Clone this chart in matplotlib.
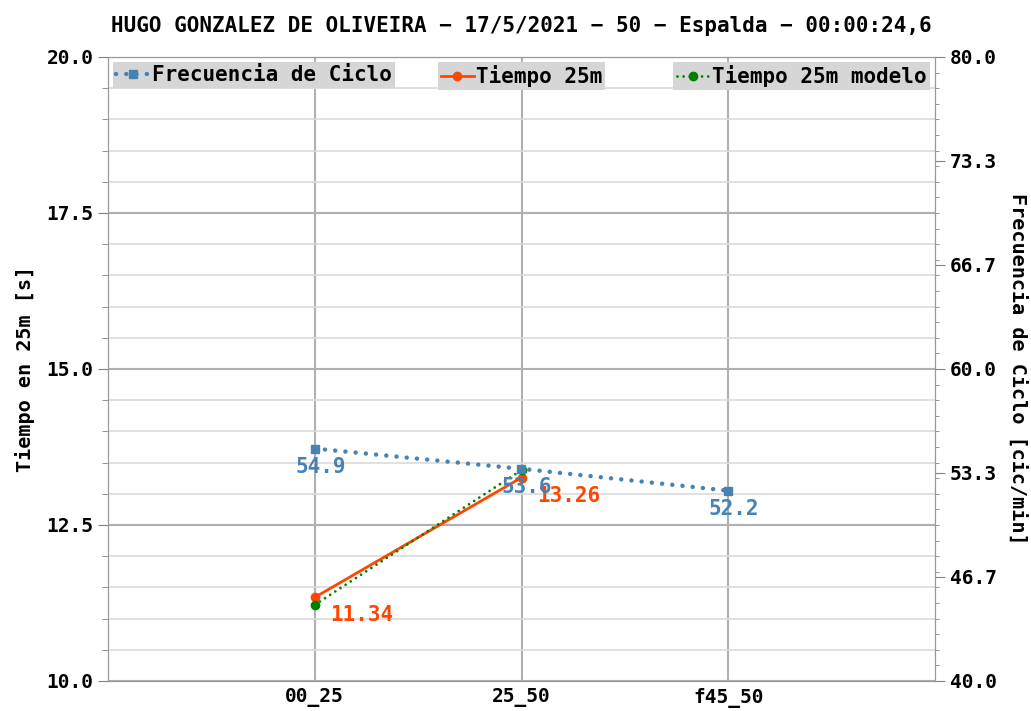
import matplotlib
matplotlib.use("Agg")
from matplotlib import pyplot as plt
from matplotlib.ticker import MultipleLocator, FormatStrFormatter

plt.rcParams['font.family'] = ['DejaVu Sans Mono']
plt.rcParams['font.weight'] = 'bold'

# datos
tramos = ["00_25", "25_50", "f45_50"]
frecuencia = [54.9, 53.6, 52.2]
tiempo = [11.34, 13.26]
tiempo_modelo = [11.22, 13.38]
titulo = "HUGO GONZALEZ DE OLIVEIRA \u2212 17/5/2021 \u2212 50 \u2212 Espalda \u2212 00:00:24,6"

fig = plt.figure(figsize=(10.31, 7.11), dpi=100)
ax1 = fig.add_axes([108 / 1031, 30 / 711, 827 / 1031, 624 / 711])
ax2 = ax1.twinx()

x = list(range(len(tramos)))

# tiempo (eje izquierdo)
ax1.plot(x[:len(tiempo)], tiempo, color="orangered", lw=2, marker="o", ms=6,
         label="Tiempo 25m", zorder=3)
ax1.plot(x[:len(tiempo_modelo)], tiempo_modelo, color="green", lw=2, ls=(0, (0.01, 2.2)),
         dash_capstyle="round", marker="o", ms=6, label="Tiempo 25m modelo", zorder=4)
for i, v in enumerate(tiempo):
    ax1.annotate("%.2f" % v, (x[i], v), xytext=(11, -13), textcoords="offset points",
                 ha="left", va="center", color="orangered", fontsize=15, fontweight="bold")

# frecuencia (eje derecho)
ax2.plot(x, frecuencia, color="steelblue", lw=3.2, ls=(0, (0.01, 2.3)), dash_capstyle="round",
         marker="s", ms=6, label="Frecuencia de Ciclo")
for i, v in enumerate(frecuencia):
    ax2.annotate("%.1f" % v, (x[i], v), xytext=(4, -13), textcoords="offset points",
                 ha="center", va="center", color="steelblue", fontsize=15, fontweight="bold")

ax1.set_xlim(-1, 3)
ax1.set_xticks(x)
ax1.set_xticklabels(tramos, fontsize=14, fontweight="bold")
ax1.set_ylim(10, 20)
ax1.yaxis.set_major_locator(MultipleLocator(2.5))
ax1.yaxis.set_minor_locator(MultipleLocator(0.5))
ax1.yaxis.set_major_formatter(FormatStrFormatter("%.1f"))
ax1.tick_params(axis="y", which="major", labelsize=14, length=7, color="gray")
ax1.tick_params(axis="y", which="minor", length=4, color="gray")
ax1.tick_params(axis="x", length=0, labelsize=14, pad=5)
ax1.grid(True, which="major", color="#b0b0b0", lw=1.5)
ax1.grid(True, which="minor", axis="y", color="#dadada", lw=1.2)
ax1.set_axisbelow(True)

ax2.set_ylim(40, 80)
ax2.set_yticks([40 + i * 40 / 6 for i in range(7)])
ax2.yaxis.set_major_formatter(FormatStrFormatter("%.1f"))
ax2.yaxis.set_minor_locator(MultipleLocator(1))
ax2.tick_params(axis="y", which="major", labelsize=14, length=7, color="gray")
ax2.tick_params(axis="y", which="minor", length=3, color="gray")

for a in (ax1, ax2):
    for s in a.spines.values():
        s.set_color("#999999")

ax1.set_ylabel("Tiempo en 25m [s]", fontsize=14.5, fontweight="bold", labelpad=8)
ax2.set_ylabel("Frecuencia de Ciclo [cic/min]", fontsize=14.5, fontweight="bold",
               rotation=270, labelpad=22)
ax1.set_title(titulo, fontsize=15, fontweight="bold", pad=18)

# leyendas separadas
opts = dict(fontsize=15, facecolor="#d6d6d6", edgecolor="none", framealpha=1,
            fancybox=False, borderpad=0.15, handlelength=1.6, handletextpad=0.1,
            borderaxespad=0.25)
l1 = ax2.legend(handles=ax2.get_lines()[:1], loc="upper left", **opts)
ax2.add_artist(l1)
h = ax1.get_lines()
l2 = ax2.legend(handles=[h[0]], loc="upper center", **opts)
ax2.add_artist(l2)
ax2.legend(handles=[h[1]], loc="upper right", **opts)

plt.savefig("out.png", dpi=100)
